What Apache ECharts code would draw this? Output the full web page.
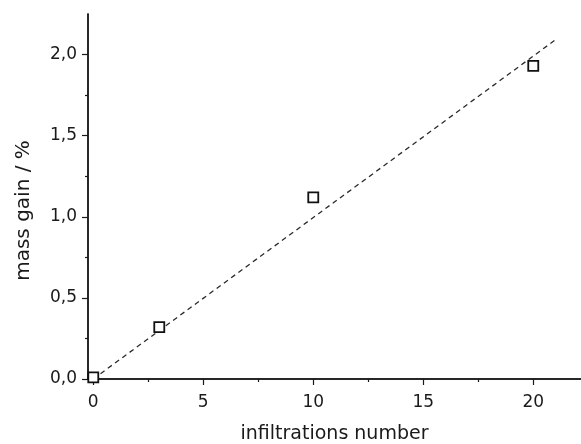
<!DOCTYPE html>
<html>
<head>
<meta charset="utf-8">
<script src="https://cdn.jsdelivr.net/npm/echarts@6/dist/echarts.min.js"></script>
<style>
    html, body { margin: 0; padding: 0; background: #fff; }
    #chart { width: 581px; height: 444px; }
</style>
</head>
<body>
<div id="chart"></div>
<script>
// measured points
const infiltrations = [0, 3, 10, 20];
const massGain = [0.01, 0.32, 1.12, 1.93];
// linear fit (dashed)
const fitX = [0, 21.1];
const fitY = [0, 2.1];
// tick values
const xMajor = [0, 5, 10, 15, 20];
const xMinor = [2.5, 7.5, 12.5, 17.5];
const yMajor = [0, 0.5, 1.0, 1.5, 2.0];
const yMinor = [0.25, 0.75, 1.25, 1.75];

const FONT = '"DejaVu Sans", "Liberation Sans", sans-serif';
const INK = '#1a1a1a';
const X_MIN = -0.24, X_MAX = 22.17;
const Y_MIN = 0, Y_MAX = 2.25;

function comma(v){
    return v.toFixed(1).replace('.', ',');
}

function createXAxis(){
    const base = {
        type: 'value',
        position: 'bottom',
        min: X_MIN,
        max: X_MAX,
        splitLine: { show: false },
        axisLine: { onZero: false, lineStyle: { color: INK, width: 1.5 } }
    };
    return [Object.assign({}, base, {
        name: 'infiltrations number',
        nameLocation: 'middle',
        nameGap: 46,
        nameTextStyle: { fontFamily: FONT, fontSize: 19, color: INK },
        axisTick: { customValues: xMajor, length: 6, lineStyle: { color: INK, width: 1.2 } },
        axisLabel: { customValues: xMajor, margin: 15, fontFamily: FONT, fontSize: 17, color: INK }
    }), Object.assign({}, base, {
        axisTick: { customValues: xMinor, length: 3, lineStyle: { color: INK, width: 1.2 } },
        axisLabel: { show: false }
    })];
}

function createYAxis(){
    const base = {
        type: 'value',
        position: 'left',
        min: Y_MIN,
        max: Y_MAX,
        splitLine: { show: false },
        axisLine: { onZero: false, lineStyle: { color: INK, width: 1.5 } }
    };
    return [Object.assign({}, base, {
        name: 'mass gain / %',
        nameLocation: 'middle',
        nameGap: 54,
        nameTextStyle: { fontFamily: FONT, fontSize: 20, color: INK, padding: [0, 28, 0, 0] },
        axisTick: { customValues: yMajor, length: 6, lineStyle: { color: INK, width: 1.2 } },
        axisLabel: { customValues: yMajor, margin: 11, fontFamily: FONT, fontSize: 17, color: INK, formatter: comma }
    }), Object.assign({}, base, {
        axisTick: { customValues: yMinor, length: 3, lineStyle: { color: INK, width: 1.2 } },
        axisLabel: { show: false }
    })];
}

function createSeries(){
    return [{
        name: 'fit',
        type: 'line',
        data: fitX.map((x, i) => [x, fitY[i]]),
        showSymbol: false,
        silent: true,
        lineStyle: { color: '#2a2a2a', width: 1.3, type: [5, 4] },
        z: 1
    }, {
        name: 'mass gain',
        type: 'scatter',
        data: infiltrations.map((x, i) => [x, massGain[i]]),
        symbol: 'rect',
        symbolSize: 10,
        itemStyle: { color: '#fff', borderColor: '#111', borderWidth: 1.8, opacity: 1 },
        z: 3
    }];
}

const chart = echarts.init(document.getElementById('chart'));
chart.setOption({
    animation: false,
    backgroundColor: '#FFFFFF',
    grid: { left: 88, right: 0, top: 14, bottom: 65, containLabel: false, outerBoundsMode: 'none' },
    xAxis: createXAxis(),
    yAxis: createYAxis(),
    series: createSeries()
});
</script>
</body>
</html>
